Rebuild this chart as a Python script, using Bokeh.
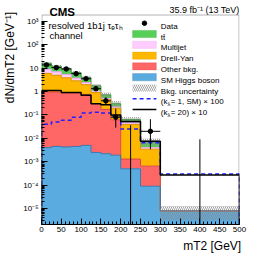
import math
from bokeh.plotting import figure
from bokeh.models import Range1d, FixedTicker, CustomJSTickFormatter, Label, BoxAnnotation
from bokeh.embed import file_html
from bokeh.resources import INLINE

# ---------------- data (densities per GeV) ----------------
bin_edges = [0, 25, 50, 75, 100, 125, 150, 175, 200, 250, 300, 500]
data_counts = [342, 262, 230, 145, 88, 33, 10, 2, 0, 1, 0]
ttbar = [7.0, 5.0, 4.0, 2.6, 1.5, 0.7, 0.22, 0.08, 0.016, 0.0033, 0.0]
multijet = [3.0, 2.0, 1.5, 0.9, 0.45, 0.15, 0.06, 0.03, 0.008, 0.0006, 0.0]
drell_yan = [5.0, 4.0, 3.0, 2.0, 1.2, 0.6, 0.27, 0.13, 0.038, 0.0028, 0.0]
other_bkg = [0.95, 0.95, 0.85, 0.85, 0.75, 0.3, 0.17, 0.06, 0.0008, 0.00056, 0.0]
sm_higgs = [0.004, 0.0045, 0.0043, 0.0045, 0.005, 0.0025, 0.0022, 0.0019, 0.0005, 0.00009, 0.000008]
bkg_unc_rel = [0.15, 0.15, 0.15, 0.15, 0.2, 0.2, 0.25, 0.3, 0.3, 0.35, 0.6]
sig_sm_x100 = [0.04, 0.05, 0.06, 0.08, 0.12, 0.13, 0.12, 0.09, 0.025, 0.0065, 0.0003]
sig_kl20_x10 = [1.1, 1.1, 0.9, 0.9, 0.7, 0.3, 0.27, 0.1, 0.053, 0.0075, 0.00027]

x_ticks = [0, 50, 100, 150, 200, 250, 300, 350, 400, 450, 500]
y_ticks = [1e-5, 1e-4, 1e-3, 1e-2, 1e-1, 1, 10, 100, 1000]
y_tick_labels = ["10\u207b\u2075", "10\u207b\u2074", "10\u207b\u00b3", "10\u207b\u00b2", "10\u207b\u00b9",
                 "1", "10", "10\u00b2", "10\u00b3"]

legend_labels = ["Data", "tt\u0304", "Multijet", "Drell-Yan", "Other bkg.", "SM Higgs boson",
                 "Bkg. uncertainty"]
x_title = "mT2 [GeV]"
y_title = "dN/dmT2 [GeV\u207b\u00b9]"

# ---------------- layout ----------------
W, H = 266, 255
FL, FR, FT, FB = 39, 239, 14, 224          # visible plotting box (page px)
LOG_TOP, LOG_BOT = 3.29, -5.68             # log10 values at FT and FB
X_MIN, X_MAX = 0, 500
DEC = (FB - FT) / (LOG_TOP - LOG_BOT)      # px per decade
LOG_CANVAS_TOP = LOG_TOP + FT / DEC        # frame extended up to the canvas top
FLOOR = 10 ** (LOG_BOT - 1)
NBSP = "\u00a0"


def X(px):
    return X_MIN + (px - FL) / (FR - FL) * (X_MAX - X_MIN)


def Y(py):
    return 10 ** (LOG_TOP - (py - FT) / DEC)


FONT = "Liberation Sans"

p = figure(width=W, height=H, output_backend="svg", toolbar_location=None,
           x_range=Range1d(X_MIN, X_MAX), y_range=Range1d(10 ** LOG_BOT, 10 ** LOG_CANVAS_TOP),
           y_axis_type="log", min_border_left=FL, min_border_right=W - FR,
           min_border_top=0, min_border_bottom=H - FB)
p.outline_line_alpha = 0
p.xgrid.visible = False
p.ygrid.visible = False
p.background_fill_color = "white"
p.border_fill_color = "white"

# axes
xa = p.xaxis[0]
xa.ticker = FixedTicker(ticks=x_ticks, minor_ticks=list(range(0, 501, 10)))
ya = p.yaxis[0]
minor_y = [m * 10 ** k for k in range(-6, 4) for m in range(2, 10)
           if LOG_BOT < math.log10(m * 10 ** k) < LOG_TOP]
ya.ticker = FixedTicker(ticks=y_ticks, minor_ticks=minor_y)
ya.formatter = CustomJSTickFormatter(args=dict(tvals=y_ticks, tlabs=y_tick_labels), code="""
let best = 0, bd = 1e9;
for (let i = 0; i < tvals.length; i++) {
  const d = Math.abs(Math.log10(tvals[i]) - Math.log10(tick));
  if (d < bd) { bd = d; best = i; }
}
return tlabs[best];
""")
for ax in (xa, ya):
    ax.major_tick_in = 6
    ax.major_tick_out = 0
    ax.minor_tick_in = 3
    ax.minor_tick_out = 0
    ax.axis_line_color = "black"
    ax.major_tick_line_color = "black"
    ax.minor_tick_line_color = "black"
    ax.major_label_text_font = FONT
    ax.major_label_text_font_size = "8px"
    ax.major_label_text_color = "black"
    ax.axis_label_text_font = FONT
    ax.axis_label_text_font_size = "12px"
    ax.axis_label_text_font_style = "normal"
    ax.axis_label_text_color = "black"
ya.axis_line_alpha = 0
xa.major_label_standoff = 2
ya.major_label_standoff = 3
# x title: centred on the axis, padded in front so its visible text ends at the frame's right edge
xa.axis_label_align = "center"
xa.axis_label = NBSP * 43 + x_title
# y title: centred on the (extended) frame, padded so that its visible text ends near the top
ya.axis_label_align = "center"
ya.axis_label = NBSP * 33 + y_title
xa.axis_label_standoff = 4
ya.axis_label_standoff = 3

# visible plot box (left, top, right edges; bottom edge is the x axis line)
p.add_layout(BoxAnnotation(left=X(FL + 0.5), right=X(FR - 0.5), top=Y(FT + 0.5), bottom=Y(FB),
                           fill_alpha=0, line_color="black", line_width=1, level="overlay"))


def step_xy(vals):
    xs, ys = [], []
    for i, v in enumerate(vals):
        xs += [bin_edges[i], bin_edges[i + 1]]
        ys += [v, v]
    return xs, ys


def band(lower, upper, **kw):
    xu, yu = step_xy(upper)
    xl, yl = step_xy(lower)
    p.patch(xu + xl[::-1], [max(v, FLOOR) for v in yu + yl[::-1]], **kw)


# stacked components
n = len(sm_higgs)
c0 = [FLOOR] * n
c1 = [sm_higgs[i] for i in range(n)]
c2 = [c1[i] + other_bkg[i] for i in range(n)]
c3 = [c2[i] + drell_yan[i] for i in range(n)]
c4 = [c3[i] + multijet[i] for i in range(n)]
c5 = [c4[i] + ttbar[i] for i in range(n)]

fills = [
    (c4, c5, "#56cf56", "#2f9a2f"),   # ttbar
    (c3, c4, "#ffccff", "#e3a6e3"),   # multijet
    (c2, c3, "#ffb800", "#d99500"),   # Drell-Yan
    (c1, c2, "#ff6666", "#d84848"),   # other
    (c0, c1, "#5aabdf", "#3a78ad"),   # SM Higgs
]
for lo, hi, fc, lc in fills:
    band(lo, hi, fill_color=fc, line_alpha=0)
for lo, hi, fc, lc in fills:
    xs, ys = step_xy(hi)
    p.line(xs, [max(v, FLOOR) for v in ys], line_color=lc, line_width=1)

# uncertainty band
unc_lo = [c5[i] * (1 - bkg_unc_rel[i]) for i in range(n)]
unc_hi = [c5[i] * (1 + bkg_unc_rel[i]) for i in range(n)]
band(unc_lo, unc_hi, fill_alpha=0, line_alpha=0, hatch_pattern="\\", hatch_color="#8a8a8a",
     hatch_scale=4, hatch_weight=0.8)

# signals
for vals, col, dash in ((sig_sm_x100, "#1f1fff", "4 3"), (sig_kl20_x10, "black", "solid")):
    xs, ys = step_xy(vals)
    xs = [bin_edges[0]] + xs + [bin_edges[-1]]
    ys = [FLOOR] + ys + [FLOOR]
    p.line(xs, ys, line_color=col, line_width=1.5, line_dash=dash)


# data with Poisson (Gehrels approx.) errors
def pois_up(k):
    return (k + 1) * (1 - 1 / (9 * (k + 1)) + 1 / (3 * math.sqrt(k + 1))) ** 3


def pois_lo(k):
    return 0.0 if k == 0 else k * (1 - 1 / (9 * k) - 1 / (3 * math.sqrt(k))) ** 3


cx, cy, ex0, ex1, vx0, vy0, vy1 = [], [], [], [], [], [], []
for i, k in enumerate(data_counts):
    w = bin_edges[i + 1] - bin_edges[i]
    c = 0.5 * (bin_edges[i] + bin_edges[i + 1])
    if k > 0:
        cx.append(c)
        cy.append(k / w)
        ex0.append(bin_edges[i])
        ex1.append(bin_edges[i + 1])
    vx0.append(c)
    vy0.append(max(pois_lo(k) / w, FLOOR))
    vy1.append(pois_up(k) / w)
p.segment(x0=ex0, y0=cy, x1=ex1, y1=cy, line_color="black", line_width=1)
p.segment(x0=vx0, y0=vy0, x1=vx0, y1=vy1, line_color="black", line_width=1)
p.scatter(cx, cy, size=4.5, marker="circle", fill_color="black", line_color="black")


# ---------------- texts ----------------
def txt(s, px, py, size, align="left", baseline="alphabetic", style="normal", angle=0):
    p.add_layout(Label(x=X(px), y=Y(py), text=s, text_font=FONT, text_font_size=f"{size}px",
                       text_align=align, text_baseline=baseline, text_font_style=style,
                       text_color="black", angle=angle))


txt("CMS", 47, 11, 11.5, style="bold")
txt("35.9 fb\u207b\u00b9 (13 TeV)", 239, 9.5, 9, align="right")
txt("resolved 1b1j \u03c4\u2091\u03c4\u2095", 46, 24.5, 9.5)
txt("channel", 47, 35, 9.5)

# ---------------- legend ----------------
row0, drow = 22.7, 10.8
gx0, gx1, lx = 131, 155, 159.5
lfs = 8
p.scatter([X(143)], [Y(row0)], size=4.5, marker="circle", fill_color="black", line_color="black")
txt(legend_labels[0], lx, row0 + 3, lfs)
for j, (lo, hi, fc, lc) in enumerate(fills):
    r = row0 + drow * (j + 1)
    p.add_layout(BoxAnnotation(left=X(gx0), right=X(gx1), top=Y(r - 3.6), bottom=Y(r + 3.6),
                               fill_color=fc, fill_alpha=1, line_color=lc, line_width=1))
    txt(legend_labels[j + 1], lx, r + 3, lfs)
r = row0 + drow * 6
p.add_layout(BoxAnnotation(left=X(gx0), right=X(gx1), top=Y(r - 3.6), bottom=Y(r + 3.6),
                           fill_alpha=0, line_alpha=0, hatch_pattern="\\", hatch_color="#8a8a8a",
                           hatch_scale=4, hatch_weight=0.8))
txt(legend_labels[6], lx, r + 3, lfs)
for j, (col, dash, rest) in enumerate((("#1f1fff", "4 3", " = 1, SM) \u00d7 100"),
                                        ("black", "solid", " = 20) \u00d7 10"))):
    r = row0 + drow * (7 + j)
    p.segment(x0=[X(gx0)], y0=[Y(r)], x1=[X(gx1)], y1=[Y(r)], line_color=col, line_width=1.5,
              line_dash=dash)
    txt("(k", lx, r + 3, lfs)
    txt("\u03bb", lx + 6.8, r + 5, lfs * 0.7)
    txt(rest, lx + 10, r + 3, lfs)

open("out.html", "w").write(file_html(p, INLINE))
